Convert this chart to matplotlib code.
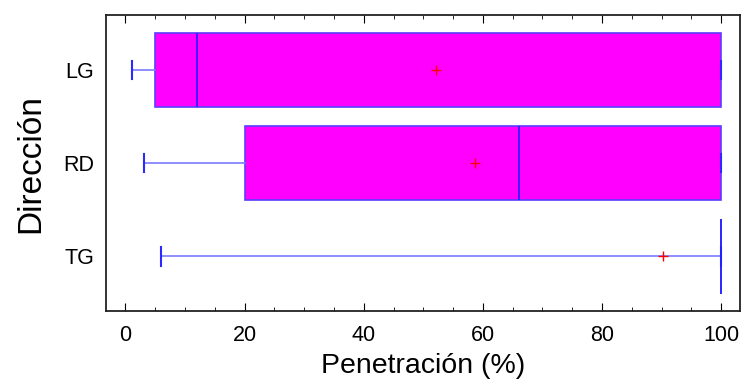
import matplotlib

matplotlib.use("Agg")
import matplotlib.pyplot as plt
from matplotlib.ticker import MultipleLocator

# Box-and-whisker summaries per direction (bottom to top)
directions = ["TG", "RD", "LG"]
whisker_low = [6.0, 3.1, 1.1]
q1 = [100.0, 20.0, 5.0]
medians = [100.0, 66.0, 12.0]
q3 = [100.0, 100.0, 100.0]
whisker_high = [100.0, 100.0, 100.0]
means = [90.3, 58.6, 52.2]

plt.rcParams["font.family"] = ["Liberation Sans", "DejaVu Sans"]

stats = []
for i, name in enumerate(directions):
    stats.append(
        {
            "label": name,
            "whislo": whisker_low[i],
            "q1": q1[i],
            "med": medians[i],
            "q3": q3[i],
            "whishi": whisker_high[i],
            "mean": means[i],
        }
    )

fig = plt.figure(figsize=(7.44, 3.89), dpi=100)
ax = fig.add_axes([0.143, 0.2, 0.852, 0.761])

ax.bxp(
    stats,
    positions=[1, 2, 3],
    widths=0.8,
    vert=False,
    patch_artist=True,
    showmeans=True,
    showfliers=False,
    boxprops=dict(facecolor="#ff00ff", edgecolor="#5a3cff", linewidth=1.2),
    whiskerprops=dict(color="#7a7aff", linewidth=1.2),
    capprops=dict(color="#2a2aff", linewidth=1.5),
    medianprops=dict(color="#2020ff", linewidth=1.2),
    meanprops=dict(marker="+", markeredgecolor="red", markersize=7, markeredgewidth=1),
    capwidths=0.2,
)

ax.set_xlim(-3.2, 103.2)
ax.set_ylim(0.41, 3.59)
ax.xaxis.set_major_locator(MultipleLocator(20))
ax.xaxis.set_minor_locator(MultipleLocator(5))
ax.tick_params(axis="x", which="major", direction="in", length=6, top=True, labelsize=15.5, pad=10)
ax.tick_params(axis="x", which="minor", direction="in", length=3, top=True)
ax.tick_params(axis="y", length=0, labelsize=15.5, pad=9)
ax.set_yticks([1, 2, 3])
ax.set_yticklabels(directions)

for side in ax.spines.values():
    side.set_linewidth(1.3)
    side.set_color("#222222")

ax.set_xlabel("Penetración (%)", fontsize=20.5, labelpad=5)
ax.set_ylabel("Dirección", fontsize=24, labelpad=12)

fig.savefig("out.png", dpi=100)
